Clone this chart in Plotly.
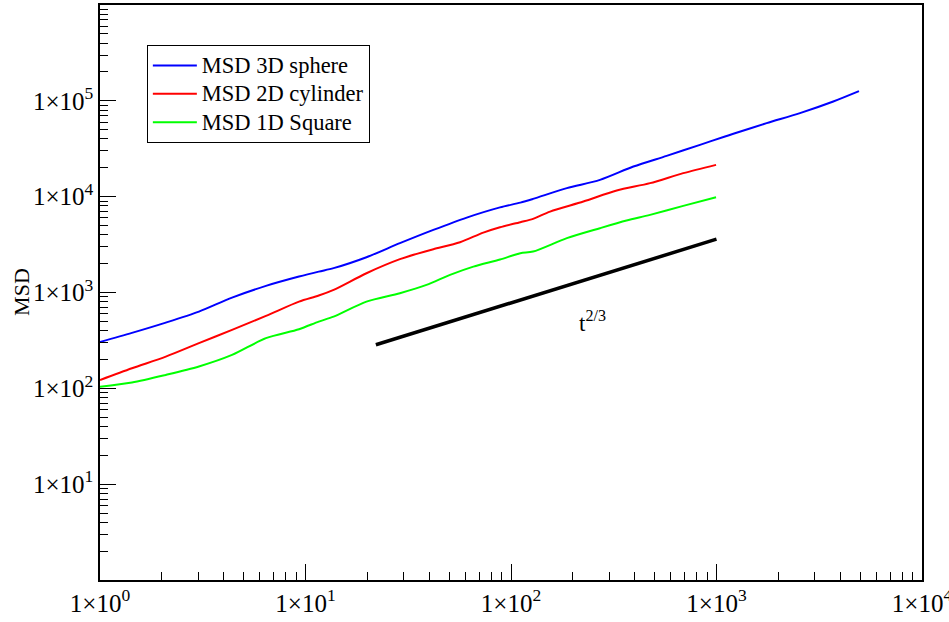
import plotly.graph_objects as go

# ---- data ----
t_sphere = [1, 1.43, 2.09, 3.03, 4.39, 6.42, 9.3, 11.6, 13.7, 19.8, 28.8, 41.9, 60.9, 88.4,
            111, 128, 187, 271, 394, 572, 831, 1100, 1208, 1754, 2548, 3701, 4936]
msd_sphere = [305, 379, 485, 632, 885, 1172, 1466, 1652, 1795, 2335, 3271, 4500, 6050, 7730,
              8670, 9480, 12270, 14970, 20620, 26660, 34750, 42400, 45270, 58500, 74400, 98400, 126200]

t_cyl = [1, 1.43, 2.09, 3.03, 4.39, 6.42, 9.3, 11.6, 13.7, 19.8, 28.8, 34.8, 41.9, 56.5, 73.3,
         88.4, 111, 128, 155, 225, 327, 475, 689, 995]
msd_cyl = [122, 162, 214, 296, 407, 570, 803, 929, 1065, 1589, 2227, 2529, 2832, 3350, 4220,
           4800, 5420, 5870, 6990, 8890, 11580, 13840, 17590, 21480]

t_sq = [1, 1.43, 2.09, 3.03, 4.39, 6.42, 9.3, 11.6, 13.7, 19.8, 28.8, 38.8, 50.5, 65.6, 88.4,
        111, 128, 187, 271, 365, 475, 689, 995]
msd_sq = [104, 115, 138, 169, 223, 334, 414, 497, 560, 803, 984, 1200, 1527, 1862, 2210,
          2570, 2673, 3690, 4690, 5630, 6460, 8020, 9880]

t_ref = [22, 1000]
msd_ref = [285, 3600]

series_names = ["MSD 3D sphere", "MSD 2D cylinder", "MSD 1D Square"]
x_tick_vals = [1, 10, 100, 1000, 10000]
x_tick_text = ["1×10<sup>0</sup>", "1×10<sup>1</sup>", "1×10<sup>2</sup>", "1×10<sup>3</sup>", "1×10<sup>4</sup>"]
y_tick_vals = [10, 100, 1000, 10000, 100000]
y_tick_text = ["1×10<sup>1</sup>", "1×10<sup>2</sup>", "1×10<sup>3</sup>", "1×10<sup>4</sup>", "1×10<sup>5</sup>"]

FONT = "Liberation Serif"


def legend_label(name):
    return '<span style="font-size:22.5px">' + name + "</span>"


fig = go.Figure()
fig.add_trace(go.Scatter(x=t_sphere, y=msd_sphere, mode="lines", name=legend_label(series_names[0]),
                         line=dict(color="#0000ff", width=2, shape="spline", smoothing=0.8)))
fig.add_trace(go.Scatter(x=t_cyl, y=msd_cyl, mode="lines", name=legend_label(series_names[1]),
                         line=dict(color="#ff0000", width=2, shape="spline", smoothing=0.8)))
fig.add_trace(go.Scatter(x=t_sq, y=msd_sq, mode="lines", name=legend_label(series_names[2]),
                         line=dict(color="#00ff00", width=2, shape="spline", smoothing=0.8)))
fig.add_trace(go.Scatter(x=t_ref, y=msd_ref, mode="lines", showlegend=False,
                         line=dict(color="black", width=3.5)))

axis_common = dict(
    type="log", showgrid=False, zeroline=False, automargin=False,
    showline=True, linecolor="black", linewidth=1.5, mirror=True,
    ticks="inside", ticklen=16, tickwidth=1.2, tickcolor="black",
    minor=dict(ticks="inside", ticklen=8, tickwidth=1.2, tickcolor="black", dtick="D1", showgrid=False),
    tickfont=dict(family=FONT, size=25, color="black"),
    ticklabeloverflow="allow",
)

fig.update_xaxes(range=[0, 4], tickvals=x_tick_vals, ticktext=x_tick_text, **axis_common)
fig.update_yaxes(range=[0, 6], tickvals=y_tick_vals, ticktext=y_tick_text, ticklabelstandoff=0, **axis_common)

fig.add_annotation(text="t<sup>2/3</sup>", x=2.396, y=2.70, xref="x", yref="y",
                   showarrow=False, font=dict(family=FONT, size=23, color="black"))
fig.add_annotation(text="MSD", x=-0.0949, y=0.501, xref="paper", yref="paper",
                   xanchor="center", yanchor="middle",
                   textangle=-90, showarrow=False, font=dict(family=FONT, size=22, color="black"))

fig.update_layout(
    width=949, height=622,
    margin=dict(l=100, r=27, t=5, b=42),
    paper_bgcolor="white", plot_bgcolor="white",
    showlegend=True,
    legend=dict(x=0.057, y=0.930, xanchor="left", yanchor="top",
                bordercolor="black", borderwidth=1, bgcolor="white", itemwidth=44,
                font=dict(family=FONT, size=19.5, color="black")),
)

fig.write_html("out.html", config={"displayModeBar": False},
               post_script="document.body.style.margin='0';")
